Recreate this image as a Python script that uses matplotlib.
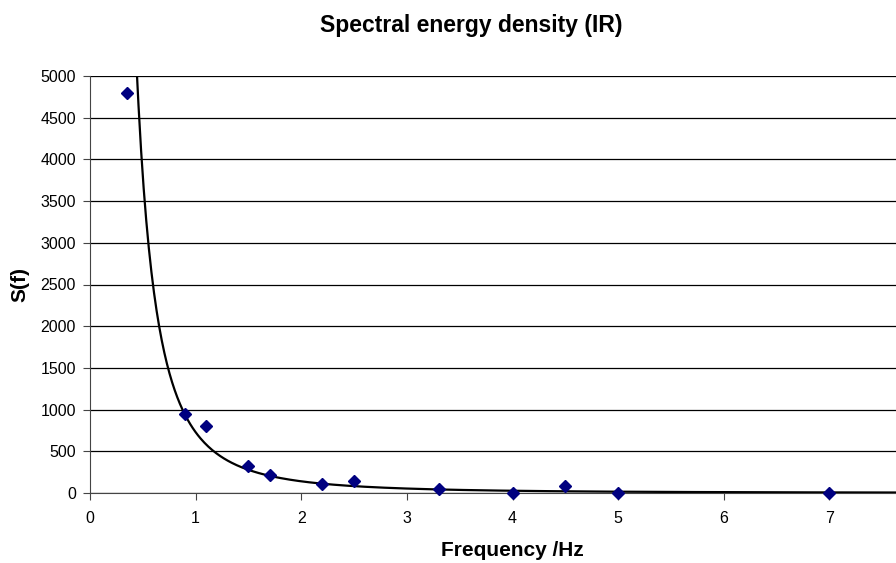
import numpy as np
import matplotlib
matplotlib.use('Agg')
import matplotlib.pyplot as plt

plt.rcParams['font.family'] = ['Liberation Sans', 'DejaVu Sans']

# measured points
freq = [0.35, 0.9, 1.1, 1.5, 1.7, 2.2, 2.5, 3.3, 4.0, 4.5, 5.0, 7.0]
energy = [4800, 945, 805, 320, 212, 104, 144, 52, 5, 88, 2, 2]

# power trendline y = a * x^b
TREND_A = 729
TREND_B = -2.38

x_ticks = [0, 1, 2, 3, 4, 5, 6, 7]
y_ticks = [0, 500, 1000, 1500, 2000, 2500, 3000, 3500, 4000, 4500, 5000]

fig = plt.figure(figsize=(8.96, 5.63), dpi=100)
ax = fig.add_axes([90 / 896, 1 - 493 / 563, 1 - 90 / 896, (493 - 76) / 563])

ax.set_xlim(0, 7.63)
ax.set_ylim(0, 5000)
ax.set_xticks(x_ticks)
ax.set_yticks(y_ticks)
ax.yaxis.grid(True, color='black', linewidth=0.9)
ax.set_axisbelow(True)

for side in ['top', 'right']:
    ax.spines[side].set_visible(False)
ax.spines['left'].set_color('#444444')
ax.spines['bottom'].set_color('#444444')
ax.tick_params(direction='out', length=5, width=0.8, colors='#444444',
               labelcolor='black', labelsize=11.5)
ax.tick_params(axis='x', pad=8)
ax.tick_params(axis='y', pad=5)

xs = np.linspace(0.3, 7.63, 600)
ax.plot(xs, TREND_A * xs ** TREND_B, color='black', linewidth=1.6, zorder=2)
ax.plot(freq, energy, linestyle='none', marker='D', markersize=6.5,
        color='#000080', zorder=3, clip_on=False)

fig.text(471 / 896, 1 - 32 / 563, 'Spectral energy density (IR)',
         ha='center', va='baseline', fontsize=16.5, fontweight='bold')
fig.text(512 / 896, 1 - 556 / 563, 'Frequency /Hz',
         ha='center', va='baseline', fontsize=15, fontweight='bold')
fig.text(20 / 896, 1 - 285 / 563, 'S(f)', rotation=90,
         ha='center', va='center', fontsize=15, fontweight='bold')

fig.savefig('out.png', dpi=100)
